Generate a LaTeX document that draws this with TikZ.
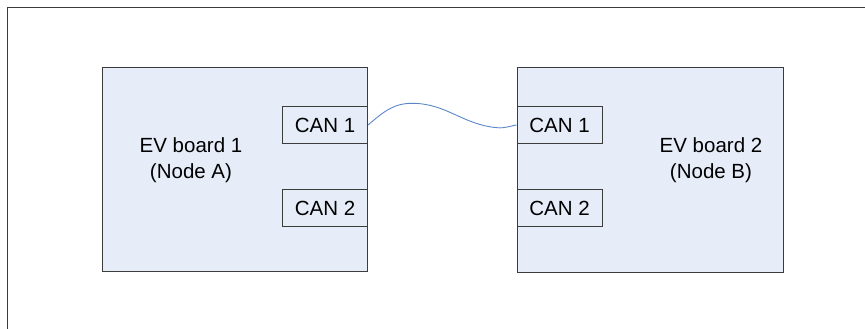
\documentclass[tikz,border=0pt]{standalone}
\usepackage{fontspec}
\setmainfont{Liberation Sans}
\definecolor{boardfill}{HTML}{E7EDF8}
\definecolor{edge}{HTML}{3C3C3C}
\definecolor{wire}{HTML}{5B87C9}
\tikzset{
  board/.style={draw=edge, fill=boardfill, line width=1pt, inner sep=0pt, minimum width=#1, minimum height=204pt},
  port/.style={draw=edge, fill=boardfill, line width=1pt, inner sep=0pt, minimum width=85pt, minimum height=37pt, font=\fontsize{20.5}{26}\selectfont},
  boardtext/.style={align=center, inner sep=0pt, font=\fontsize{20.5}{26}\selectfont},
  frameline/.style={draw=edge, line width=1pt}
}
\begin{document}
\begin{tikzpicture}[x=1pt,y=-1pt]
\useasboundingbox (0,0) rectangle (865,329);
\coordinate (f1) at (7.5,329);
\coordinate (f2) at (7.5,7.5);
\coordinate (f3) at (865,7.5);
\draw[frameline] (f1) -- (f2) -- (f3);
% boards
\node[board=265pt] (bA) at (234.5,169.8) {};
\node[board=266pt] (bB) at (650,170) {};
\node[boardtext] (tA) at (191,160) {EV board 1\\(Node A)};
\node[boardtext] (tB) at (711,160) {EV board 2\\(Node B)};
% ports
\node[port] (a1) at (325,125) {CAN 1};
\node[port] (a2) at (325,208) {CAN 2};
\node[port] (b1) at (559.5,125) {CAN 1};
\node[port] (b2) at (559.5,208) {CAN 2};
% cable
\coordinate (pk) at (412,103.3);
\coordinate (tr) at (497,127.7);
\draw[wire, line width=0.9pt] (a1.east) to[out=-40+80,in=180] (pk) to[out=0,in=175] (tr) to[out=-5,in=190] (b1.west);
\end{tikzpicture}
\end{document}
